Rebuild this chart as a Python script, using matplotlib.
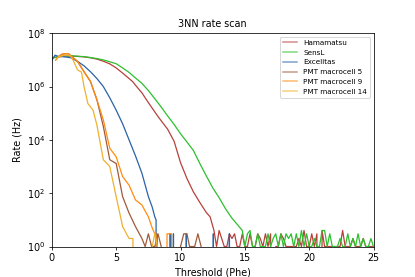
import numpy as np
import matplotlib
matplotlib.use("Agg")
import matplotlib.pyplot as plt

# ---------------- data ----------------
ham_x = [0, 0.5, 1, 1.5, 2, 2.5, 3, 3.5, 4, 4.5, 5, 5.5, 6, 6.3, 6.5, 7, 7.5, 8, 8.3, 8.5, 9, 9.5, 10, 10.5, 11, 11.5, 12, 12.3, 12.6,
         12.8, 13.0, 13.2, 13.4, 13.6, 13.8, 14.0, 14.2, 14.4, 14.6, 14.8, 15.0, 15.2, 15.4, 15.6, 15.8, 16.0, 16.2, 16.4, 16.6, 16.8,
         17.0, 17.2, 17.4, 17.6, 17.8, 18.0, 18.2, 18.4, 18.6, 18.8, 19.0, 19.2, 19.4, 19.6, 19.8, 20.0, 20.2, 20.4, 20.6, 20.8,
         21.0, 21.2, 21.4, 21.6, 21.8, 22.0, 22.2, 22.4, 22.6, 22.8, 23.0, 23.2, 23.4, 23.6, 23.8, 24.0, 24.2, 24.4, 24.6, 24.8, 25.0]
ham_y = [1.2e7, 1.3e7, 1.4e7, 1.4e7, 1.35e7, 1.3e7, 1.2e7, 1.07e7, 8.9e6, 7.1e6, 5.0e6, 3.2e6, 2.0e6, 1.5e6, 1.12e6, 5.8e5, 2.5e5,
         1.12e5, 7.0e4, 5.2e4, 2.5e4, 8.9e3, 1.4e3, 355, 112, 45, 19, 13, 4,
         1, 4, 2, 1, 1, 3, 2, 3, 1, 1, 3, 1, 1, 3, 1, 1, 3, 2, 1, 3, 1,
         3, 0, 1, 1, 3, 2, 1, 1, 1, 1, 1, 2, 1, 4, 1, 1, 3, 1, 3, 0,
         4, 1, 1, 1, 1, 1, 1, 1, 4, 1, 1, 1, 2, 1, 1, 1, 2, 1, 1, 1, 1]

sen_x = [0, 0.25, 0.5, 1, 1.5, 2, 2.5, 3, 3.5, 4, 4.5, 5, 5.5, 6, 6.5, 7, 7.5, 8, 8.5, 9, 9.5, 10, 10.5, 11, 11.5, 12, 12.5, 13,
         13.5, 14, 14.5, 14.8,
         15.0, 15.2, 15.4, 15.6, 15.8, 16.0, 16.2, 16.4, 16.6, 16.8, 17.0, 17.2, 17.4, 17.6, 17.8, 18.0, 18.2, 18.4, 18.6, 18.8,
         19.0, 19.2, 19.4, 19.6, 19.8, 20.0, 20.2, 20.4, 20.6, 20.8, 21.0, 21.2, 21.4, 21.6, 21.8, 22.0, 22.2, 22.4, 22.6, 22.8,
         23.0, 23.2, 23.4, 23.6, 23.8, 24.0, 24.2, 24.4, 24.6, 24.8, 25.0]
sen_y = [1.12e7, 1.26e7, 1.32e7, 1.41e7, 1.41e7, 1.38e7, 1.32e7, 1.23e7, 1.12e7, 1.0e7, 8.5e6, 7.2e6, 5.0e6, 3.4e6, 2.1e6,
         1.32e6, 7.1e5, 3.5e5, 1.7e5, 7.9e4, 3.8e4, 1.7e4, 8.3e3, 4.0e3, 1.3e3, 450, 160, 68, 26, 11.5, 6, 4,
         1, 3, 4, 1, 1, 3, 1, 1, 1, 3, 1, 2, 3, 1, 3, 1, 3, 2, 3, 1,
         3, 1, 4, 1, 3, 1, 1, 2, 1, 1, 4, 4, 1, 3, 1, 1, 1, 2, 1, 1,
         3, 1, 2, 1, 3, 1, 2, 1, 1, 2, 1]

exc_x = [0, 0.25, 0.5, 1, 1.5, 2, 2.5, 3, 3.5, 4, 4.5, 5, 5.5, 6, 6.5, 7, 7.5, 7.8, 8.0, 8.1, 8.12,
         8.13, 8.15, 8.17, 9.15, 9.2, 9.25, 9.4, 9.45, 9.5, 10.4, 10.45, 10.5, 12.5, 12.55, 12.6, 13.75, 13.8, 13.9]
exc_y = [1.0e7, 1.5e7, 1.35e7, 1.3e7, 1.2e7, 8.7e6, 6.0e6, 3.6e6, 2.0e6, 1.0e6, 3.8e5, 1.3e5, 4.0e4, 1.0e4, 2.5e3, 560,
         75, 30, 13, 10, 0,
         0, 3, 0, 0, 3, 0, 0, 3, 0, 0, 3, 0, 0, 3, 0, 0, 3, 0]

pmt5_x = [0.3, 0.5, 0.75, 1, 1.3, 1.5, 2, 2.5, 3, 3.5, 4, 4.5, 5, 5.5, 6, 6.5, 7, 7.25, 7.5, 7.75, 8.0, 8.25, 8.5, 8.75,
          10.0, 10.25, 10.5, 10.7, 11.1, 11.35, 11.6, 11.8]
pmt5_y = [1.0e7, 1.3e7, 1.6e7, 1.7e7, 1.7e7, 1.4e7, 8.7e6, 3.6e6, 1.55e6, 3.2e5, 3.2e4, 1.8e3, 1.3e3, 74, 18, 5.6, 2, 1,
          3, 1, 1, 3, 1, 0, 1, 3, 3, 1, 1, 3, 1, 0]

pmt9_x = [0.3, 0.5, 0.75, 1, 1.3, 1.5, 2, 2.5, 3, 3.5, 4, 4.5, 5, 5.5, 6, 6.5, 7, 7.5, 7.8, 8.0, 8.1, 8.15,
          8.9, 8.95, 9.3, 9.35]
pmt9_y = [1.0e7, 1.3e7, 1.6e7, 1.7e7, 1.7e7, 1.4e7, 8.7e6, 3.6e6, 1.55e6, 3.2e5, 5.6e4, 4.9e3, 2.3e3, 420, 200, 56, 36,
          13, 5, 3, 3, 0, 0, 3, 3, 0]

pmt14_x = [0.3, 0.5, 1, 1.4, 1.6, 2, 2.3, 2.5, 2.8, 3.2, 3.5, 4, 4.5, 5, 5.5, 6, 6.3, 6.35, 7.7, 7.8, 8.0, 8.2, 8.25]
pmt14_y = [1.0e7, 1.3e7, 1.5e7, 1.5e7, 1.1e7, 4.2e6, 3.5e6, 1.0e6, 2.3e5, 1.3e5, 3.6e4, 1.8e3, 1.0e3, 74, 5.6, 2, 2, 0,
           0, 1, 3, 1, 0]

labels = ["Hamamatsu", "SensL", "Excelitas", "PMT macrocell 5", "PMT macrocell 9", "PMT macrocell 14"]
colors = ["#b8403a", "#2cc02c", "#2a62a8", "#a05a38", "#ff8c10", "#f0b030"]

series = [(ham_x, ham_y), (sen_x, sen_y), (exc_x, exc_y), (pmt5_x, pmt5_y), (pmt9_x, pmt9_y), (pmt14_x, pmt14_y)]

# ---------------- plot ----------------
dpi = 415 / 6
fig = plt.figure(figsize=(6, 277 / dpi), dpi=dpi)
ax = fig.add_subplot(111)

for (x, y), lab, c in zip(series, labels, colors):
    ax.plot(x, y, color=c, lw=1.3, label=lab)

ax.set_yscale("log", nonpositive="clip")
ax.set_xlim(0, 25)
ax.set_ylim(1, 1e8)
ax.set_yticks([1, 1e2, 1e4, 1e6, 1e8])
ax.minorticks_off()
ax.set_xticks([0, 5, 10, 15, 20, 25])
ax.tick_params(labelsize=10)
ax.set_xlabel("Threshold (Phe)", fontsize=10)
ax.set_ylabel("Rate (Hz)", fontsize=10)
ax.set_title("3NN rate scan", fontsize=10)

leg = ax.legend(loc="upper right", fontsize=7.6)
for h in leg.get_lines():
    h.set_alpha(0.6)
    h.set_linewidth(1.6)

fig.savefig("out.png", dpi=dpi)
